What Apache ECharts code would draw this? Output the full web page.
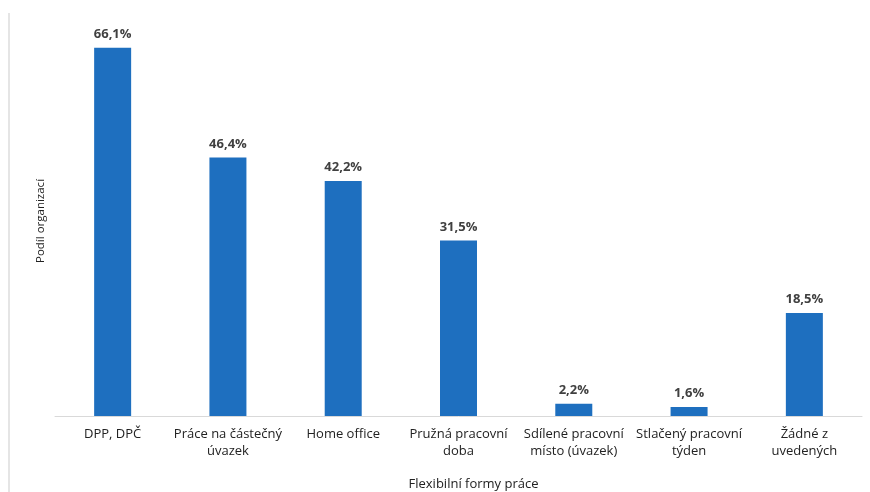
<!DOCTYPE html>
<html><head><meta charset="utf-8">
<script src="https://cdn.jsdelivr.net/npm/echarts@6/dist/echarts.min.js"></script>
<style>html,body{margin:0;padding:0;background:#fff}#c{width:870px;height:492px}</style>
</head><body><div id="c"></div>
<script>
const categories = ['DPP, DPČ','Práce na částečný\núvazek','Home office','Pružná pracovní\ndoba','Sdílené pracovní\nmísto (úvazek)','Stlačený pracovní\ntýden','Žádné z\nuvedených'];
const values = [66.1, 46.4, 42.2, 31.5, 2.2, 1.6, 18.5];
const chart = echarts.init(document.getElementById('c'));
const font = 'Open Sans';
chart.setOption({
  animation: false,
  grid: {left: 55, right: 8, top: 26, bottom: 76, outerBoundsMode: 'none', containLabel: false},
  graphic: [{type:'line', shape:{x1:9,y1:13,x2:9,y2:492}, style:{stroke:'#dcdcdc', lineWidth:1.5}}],
  xAxis: {
    type: 'category', data: categories,
    axisLine: {lineStyle: {color: '#d9d9d9', width: 1}},
    axisTick: {show: false},
    axisLabel: {color: '#222', fontFamily: font, fontSize: 13, margin: 10, lineHeight: 17, interval: 0},
    name: 'Flexibilní formy práce', nameLocation: 'middle', nameGap: 62,
    nameTextStyle: {color: '#222', fontFamily: font, fontSize: 13, padding: [0,0,0,30]}
  },
  yAxis: {
    type: 'value', min: 0, max: 70,
    axisLine: {show: false}, axisTick: {show: false}, axisLabel: {show: false}, splitLine: {show: false},
    name: 'Podíl organizací', nameLocation: 'middle', nameGap: 8, nameRotate: 90,
    nameTextStyle: {color: '#222', fontFamily: font, fontSize: 11.5}
  },
  series: [{
    type: 'bar', data: values, barWidth: 37,
    itemStyle: {color: '#1e6fbf'},
    label: {show: true, position: 'top', distance: 7, color: '#404040', fontFamily: font, fontSize: 13, fontWeight: 'bold',
      formatter: p => p.value.toFixed(1).replace('.', ',') + '%'}
  }]
});
</script></body></html>
